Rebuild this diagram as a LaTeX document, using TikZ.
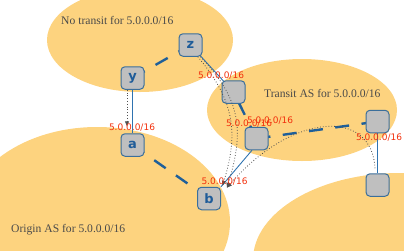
\documentclass[tikz,border=0pt]{standalone}
\usepackage{fontspec}
\setmainfont{Liberation Serif}
\newfontfamily\prefixfont{DejaVu Sans}
\newfontfamily\routerfont{DejaVu Sans}
\usetikzlibrary{arrows.meta}

\definecolor{asfill}{HTML}{FDD37F}
\definecolor{boxfill}{HTML}{BFBFBF}
\definecolor{boxline}{HTML}{3B6F9B}
\definecolor{linkblue}{HTML}{1F5F99}
\definecolor{thinblue}{HTML}{2F73B0}
\definecolor{letterblue}{HTML}{1F5C99}
\definecolor{pathgray}{HTML}{505050}
\definecolor{prefixred}{HTML}{F2300C}
\definecolor{astext}{HTML}{4A4A4A}

\pgfdeclarelayer{areas}
\pgfdeclarelayer{links}
\pgfsetlayers{areas,links,main}

\tikzset{
  router/.style={draw=boxline, line width=1pt, fill=boxfill, rounded corners=4pt,
    minimum width=23pt, minimum height=22.5pt, inner sep=0pt,
    font=\routerfont\bfseries\fontsize{13}{13}\selectfont, text=letterblue},
  peerlink/.style={draw=linkblue, line width=2.4pt, dash pattern=on 14pt off 12.5pt},
  physlink/.style={draw=thinblue, line width=0.9pt},
  announce/.style={draw=pathgray, line width=0.8pt, dotted,
    -{Triangle[length=5pt,width=4pt]}},
  prefixlbl/.style={text=prefixred, font=\prefixfont\fontsize{9}{9}\selectfont, inner sep=0pt},
  asname/.style={text=astext, font=\fontsize{11.6}{12}\selectfont, anchor=west, inner sep=0pt},
  area/.style={fill=asfill}
}

\begin{document}
\begin{tikzpicture}[x=1pt,y=-1pt]
\useasboundingbox (0,0) rectangle (404,250);
\clip (0,0) rectangle (404,250);

% autonomous systems
\begin{pgfonlayer}{areas}
  \fill[area] (140,40) ellipse [x radius=93pt, y radius=52pt];
  \fill[area] (302,110) ellipse [x radius=95pt, y radius=51pt];
  \fill[area] (97,222) ellipse [x radius=133pt, y radius=95pt];
  \fill[area] (400,260) ellipse [x radius=147pt, y radius=87pt];
\end{pgfonlayer}

% routers
\node[router] (z)  at (190.5,45)   {z};
\node[router] (y)  at (132.5,78)   {y};
\node[router] (a)  at (132.5,145)  {a};
\node[router] (b)  at (209,198.5)  {b};
\node[router] (t1) at (233.5,92)   {};
\node[router] (t2) at (256.5,138.5){};
\node[router] (t3) at (377.5,121.5){};
\node[router] (t4) at (377.5,185)  {};

% sessions and physical links
\begin{pgfonlayer}{links}
  \draw[peerlink] (y.center) -- (z.center);
  \draw[peerlink] (a.center) -- (b.center);
  \draw[peerlink] (t2.center) -- (t1.center);
  \draw[peerlink] (t2.center) -- (t3.center);
  \draw[physlink] (y) -- (a);
  \draw[physlink] (z.center) -- (t1.center);
  \draw[physlink] (t3) -- (t4);
  \draw[physlink] (t2.249) -- (b.north east);
\end{pgfonlayer}

% route announcements
\draw[announce] ([xshift=-5.5pt]y.south) -- ([xshift=-5.5pt,yshift=7pt]a.north);
\draw[announce] (z.-58) .. controls (236,102) and (238,135) .. ([xshift=1.5pt,yshift=1pt]b.north east);
\draw[announce] (z.-50) .. controls (242,100) and (244,132) .. ([xshift=6pt,yshift=-1pt]b.north east);
\draw[announce] ([xshift=-2.5pt,yshift=5pt]t4.north) .. controls (372,108) and (292,112) .. ([xshift=6pt,yshift=-1pt]b.north east);

% prefix labels
\node[prefixlbl] (p1) at (221,76)    {5.0.0.0/16};
\node[prefixlbl] (p2) at (132,128)   {5.0.0.0/16};
\node[prefixlbl] (p3) at (249,123.5) {5.0.0.0/16};
\node[prefixlbl] (p4) at (270,121)   {5.0.0.0/16};
\node[prefixlbl] (p5) at (379,138)   {5.0.0.0/16};
\node[prefixlbl] (p6) at (224.5,182) {5.0.0.0/16};

% AS captions
\node[asname] (n1) at (61,20)  {No transit for 5.0.0.0/16};
\node[asname] (n2) at (264,93) {Transit AS for 5.0.0.0/16};
\node[asname] (n3) at (11,230) {Origin AS for 5.0.0.0/16};
\end{tikzpicture}
\end{document}
